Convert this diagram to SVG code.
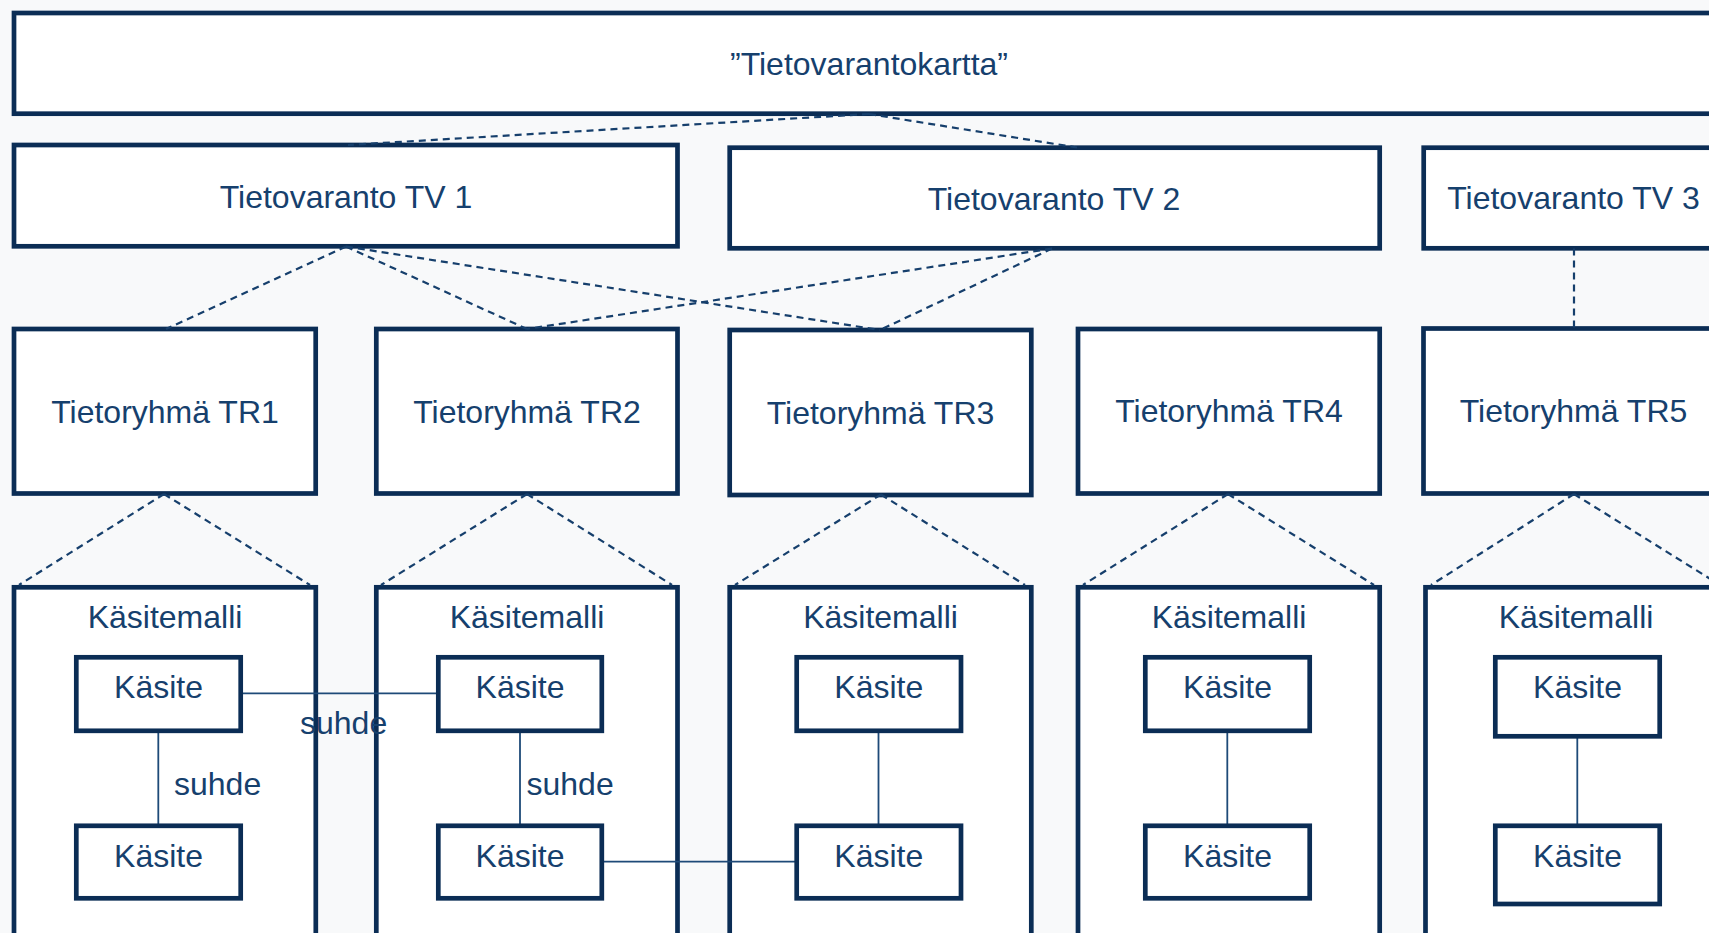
<svg xmlns="http://www.w3.org/2000/svg" width="1709" height="933" viewBox="0 0 1709 933">
<style>
.box{fill:#ffffff;stroke:#0b2d55;stroke-width:4.7}
.t{font-family:"Liberation Sans",Arial,sans-serif;font-size:32px;fill:#16406d;text-anchor:middle}
.tl{font-family:"Liberation Sans",Arial,sans-serif;font-size:32px;fill:#16406d}
.dash{stroke:#163f6c;stroke-width:2.2;stroke-dasharray:7 5;fill:none}
.rel{stroke:#1e4a78;stroke-width:1.8;fill:none}
</style>
<rect x="0" y="0" width="1709" height="933" fill="#f8f9fa"/>
<g id="title"><rect class="box" x="14" y="13" width="1710" height="100.7"/><text class="t" x="869" y="75">”Tietovarantokartta”</text></g>
<g id="tv1"><rect class="box" x="14" y="145" width="663.5" height="101.3"/><text class="t" x="346" y="208">Tietovaranto TV 1</text></g>
<g id="tv2"><rect class="box" x="729.7" y="147.7" width="650" height="100.6"/><text class="t" x="1054" y="210">Tietovaranto TV 2</text></g>
<g id="tv3"><rect class="box" x="1423.7" y="147.7" width="300" height="100.6"/><text class="t" x="1573.5" y="209">Tietovaranto TV 3</text></g>
<g id="tr1"><rect class="box" x="14" y="329" width="301.7" height="164.5"/><text class="t" x="165" y="422.5">Tietoryhmä TR1</text></g>
<g id="tr2"><rect class="box" x="376.3" y="329" width="301.2" height="164.5"/><text class="t" x="527" y="422.5">Tietoryhmä TR2</text></g>
<g id="tr3"><rect class="box" x="729.7" y="330" width="301.6" height="165"/><text class="t" x="880.5" y="424">Tietoryhmä TR3</text></g>
<g id="tr4"><rect class="box" x="1078" y="329" width="301.7" height="164.5"/><text class="t" x="1229" y="422">Tietoryhmä TR4</text></g>
<g id="tr5"><rect class="box" x="1423.5" y="328.5" width="301.6" height="165"/><text class="t" x="1573.5" y="421.7">Tietoryhmä TR5</text></g>
<g id="km1"><rect class="box" x="14" y="587.3" width="301.8" height="380"/><text class="t" x="165" y="627.7">Käsitemalli</text></g>
<g id="km2"><rect class="box" x="376.3" y="587.3" width="301.2" height="380"/><text class="t" x="527" y="627.7">Käsitemalli</text></g>
<g id="km3"><rect class="box" x="729.7" y="587.3" width="301.6" height="380"/><text class="t" x="880.5" y="627.7">Käsitemalli</text></g>
<g id="km4"><rect class="box" x="1078" y="587.3" width="301.7" height="380"/><text class="t" x="1229" y="627.7">Käsitemalli</text></g>
<g id="km5"><rect class="box" x="1425.5" y="587.3" width="301.6" height="380"/><text class="t" x="1576" y="627.7">Käsitemalli</text></g>
<g id="connectors">
<line class="dash" x1="869" y1="114" x2="348" y2="145"/>
<line class="dash" x1="869" y1="114" x2="1077" y2="147.5"/>
<line class="dash" x1="346" y1="246.5" x2="166" y2="329"/>
<line class="dash" x1="346" y1="246.5" x2="527" y2="329"/>
<line class="dash" x1="346" y1="246.5" x2="880" y2="330"/>
<line class="dash" x1="1052" y1="248.5" x2="527" y2="329"/>
<line class="dash" x1="1052" y1="248.5" x2="880" y2="330"/>
<line class="dash" x1="1574" y1="248.5" x2="1574" y2="328.5"/>
<line class="dash" x1="164" y1="494" x2="19" y2="585"/>
<line class="dash" x1="164" y1="494" x2="310" y2="585"/>
<line class="dash" x1="527" y1="494" x2="381" y2="585"/>
<line class="dash" x1="527" y1="494" x2="672" y2="585"/>
<line class="dash" x1="881" y1="494.5" x2="735" y2="585"/>
<line class="dash" x1="881" y1="494.5" x2="1025" y2="585"/>
<line class="dash" x1="1228" y1="494" x2="1083" y2="585"/>
<line class="dash" x1="1228" y1="494" x2="1374" y2="585"/>
<line class="dash" x1="1574" y1="494" x2="1431" y2="585"/>
<line class="dash" x1="1574" y1="494" x2="1720" y2="585"/>
<line class="rel" x1="158.3" y1="731" x2="158.3" y2="826"/>
<line class="rel" x1="520" y1="731" x2="520" y2="826"/>
<line class="rel" x1="878.5" y1="731" x2="878.5" y2="826"/>
<line class="rel" x1="1227.3" y1="731" x2="1227.3" y2="826"/>
<line class="rel" x1="1577.3" y1="736" x2="1577.3" y2="826"/>
<line class="rel" x1="240.7" y1="693.3" x2="438.3" y2="693.3"/>
<line class="rel" x1="601.8" y1="861.7" x2="796.7" y2="861.7"/>
<text class="tl" x="174" y="795">suhde</text>
<text class="tl" x="300" y="734">suhde</text>
<text class="tl" x="526.5" y="795">suhde</text>
</g>
<g id="k1a"><rect class="box" x="76.3" y="657.3" width="164.4" height="73.5"/><text class="t" x="158.5" y="698">Käsite</text></g>
<g id="k1b"><rect class="box" x="76.3" y="825.8" width="164.4" height="72.5"/><text class="t" x="158.5" y="866.7">Käsite</text></g>
<g id="k2a"><rect class="box" x="438.3" y="657.3" width="163.5" height="73.5"/><text class="t" x="520" y="698">Käsite</text></g>
<g id="k2b"><rect class="box" x="438.3" y="825.8" width="163.5" height="72.5"/><text class="t" x="520" y="866.7">Käsite</text></g>
<g id="k3a"><rect class="box" x="796.7" y="657.3" width="164.3" height="73.5"/><text class="t" x="878.8" y="698">Käsite</text></g>
<g id="k3b"><rect class="box" x="796.7" y="825.8" width="164.3" height="72.5"/><text class="t" x="878.8" y="866.7">Käsite</text></g>
<g id="k4a"><rect class="box" x="1145.3" y="657.3" width="164.4" height="73.5"/><text class="t" x="1227.5" y="698">Käsite</text></g>
<g id="k4b"><rect class="box" x="1145.3" y="825.8" width="164.4" height="72.5"/><text class="t" x="1227.5" y="866.7">Käsite</text></g>
<g id="k5a"><rect class="box" x="1495.3" y="657.3" width="164.4" height="79"/><text class="t" x="1577.5" y="698">Käsite</text></g>
<g id="k5b"><rect class="box" x="1495.3" y="825.8" width="164.4" height="78.2"/><text class="t" x="1577.5" y="866.7">Käsite</text></g>
</svg>
